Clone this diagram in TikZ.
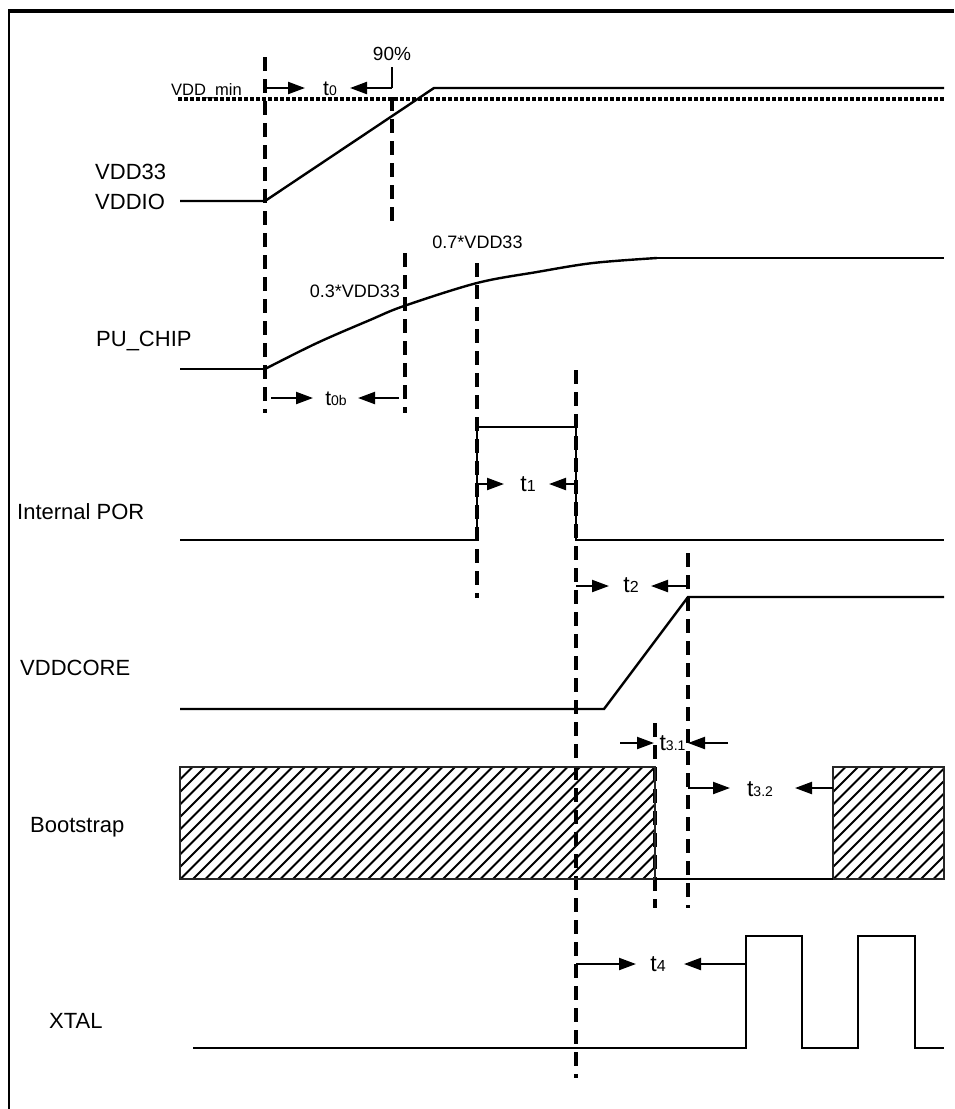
\documentclass[tikz,border=0pt]{standalone}
\usepackage{fontspec}
\setmainfont{Liberation Sans}
\usetikzlibrary{arrows.meta}
\newcommand\fsz[1]{\fontsize{#1}{#1}\selectfont}
\begin{document}
\begin{tikzpicture}[x=1pt,y=-1pt,
  sig/.style={line width=2.4pt, line join=miter},
  vdash/.style={line width=3.4pt, dash pattern=on 14pt off 8pt},
  dotln/.style={line width=3.4pt, dash pattern=on 3.5pt off 2.5pt},
  tarrow/.style={line width=2.2pt, -{Triangle[length=17pt,width=12pt]}},
  hatchbox/.style={draw=black!85, line width=1.8pt},
  hatchln/.style={line width=1.9pt, black},
  lab/.style={inner sep=0pt, anchor=base west, font=\fsz{22}},
  small/.style={inner sep=0pt, font=\fsz{18}},
  tlab/.style={inner sep=0pt, anchor=base}]
\useasboundingbox (0,0) rectangle (954,1109);
% frame
\draw[line width=3.6pt] (8,11) -- (954,11);
\draw[line width=2pt] (9,11) -- (9,1109);

% left labels
\node[lab] (lvdd33) at (95,179) {VDD33};
\node[lab] (lvddio) at (95,209) {VDDIO};
\node[lab] (lpu) at (96,346) {PU\_CHIP};
\node[lab] (lpor) at (17,519) {Internal POR};
\node[lab] (lcore) at (20,675) {VDDCORE};
\node[lab] (lboot) at (30,832) {Bootstrap};
\node[lab] (lxtal) at (49,1028) {XTAL};

% small labels
\node[inner sep=0pt, anchor=base west, font=\fsz{16.5}] (lmin) at (171,95) {VDD\_min};
\node[inner sep=0pt, anchor=base, font=\fsz{19}] (l90) at (392,60) {90\%};
\node[small, anchor=base east] (l03) at (400,297) {0.3*VDD33};
\node[small, anchor=base] (l07) at (477.5,248) {0.7*VDD33};

% dashed verticals
\draw[vdash] (265,57) -- (265,413);
\draw[sig] (392,67) -- (392,88);
\draw[vdash] (392,97) -- (392,228);
\draw[vdash] (405,253) -- (405,413);
\draw[vdash] (477,263) -- (477,598);
\draw[vdash] (576,370) -- (576,1078);
\draw[vdash] (688,553) -- (688,908);
\draw[vdash] (655,723) -- (655,908);

% VDD33 / VDDIO
\draw[dotln] (178,99) -- (944,99);
\draw[sig] (180,201) -- (265,201) -- (434,88) -- (944,88);

% PU_CHIP
\draw[sig] (180,369) -- (265,369);
\draw[sig] plot[smooth, tension=0.55] coordinates {(265,369) (317,343) (370,320) (404,306) (477,283) (537,272) (593,263) (657,258)};
\draw[sig] (656,258) -- (944,258);

% Internal POR
\draw[sig] (180,540) -- (477,540) -- (477,427) -- (576,427) -- (576,540) -- (944,540);

% VDDCORE
\draw[sig] (180,709) -- (604,709) -- (688,597) -- (944,597);

% Bootstrap
\begin{scope}
  \clip (180,767) rectangle (655,879);
  \foreach \s in {-112,-99.5,...,660} {\draw[hatchln] (180+\s,879) -- (292+\s,767);}
\end{scope}
\draw[hatchbox] (180,767) rectangle (655,879);
\begin{scope}
  \clip (833,767) rectangle (944,879);
  \foreach \s in {-112,-99.5,...,120} {\draw[hatchln] (833+\s,879) -- (945+\s,767);}
\end{scope}
\draw[hatchbox] (833,767) rectangle (944,879);
\draw[sig] (655,879) -- (833,879);

% XTAL
\draw[sig] (193,1048) -- (746,1048) -- (746,936) -- (802,936) -- (802,1048) -- (858,1048) -- (858,936) -- (915,936) -- (915,1048) -- (944,1048);

% timing arrows and labels
\draw[tarrow] (265,88) -- (305,88);
\draw[tarrow] (392,88) -- (350,88);
\node[tlab] (t0) at (330,95) {\fsz{21}t\fsz{14}0};

\draw[tarrow] (271,398) -- (313,398);
\draw[tarrow] (399,398) -- (358,398);
\node[tlab] (t0b) at (336,405) {\fsz{21}t\fsz{14}0b};

\draw[tarrow] (477,484) -- (504,484);
\draw[tarrow] (576,484) -- (549,484);
\node[tlab] (t1) at (528,491.5) {\fsz{23}t\fsz{16}1};

\draw[tarrow] (576,586) -- (609,586);
\draw[tarrow] (688,586) -- (651,586);
\node[tlab] (t2) at (631,592) {\fsz{23}t\fsz{16}2};

\draw[tarrow] (620,743) -- (654,743);
\draw[tarrow] (728,743) -- (688,743);
\node[tlab] (t31) at (672.5,750.5) {\fsz{23}t\fsz{14}3.1};

\draw[tarrow] (688,788) -- (730,788);
\draw[tarrow] (833,788) -- (795,788);
\node[tlab] (t32) at (760,796.5) {\fsz{23}t\fsz{14}3.2};

\draw[tarrow] (576,964) -- (636,964);
\draw[tarrow] (746,964) -- (684,964);
\node[tlab] (t4) at (658,971.5) {\fsz{23}t\fsz{16}4};
\end{tikzpicture}
\end{document}
